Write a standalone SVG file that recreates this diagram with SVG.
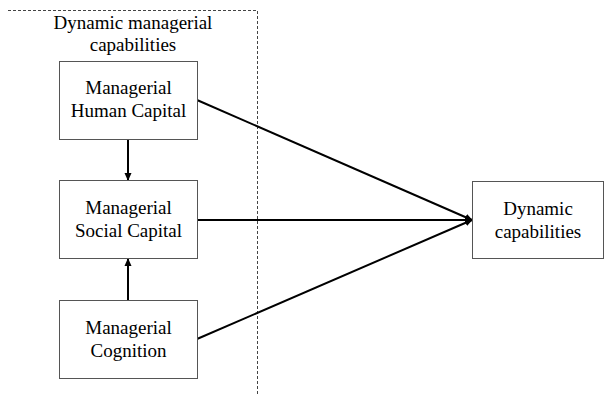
<svg xmlns="http://www.w3.org/2000/svg" width="605" height="396" viewBox="0 0 605 396">
<defs>
<style>
.box{fill:#fff;stroke:#555;stroke-width:1}
.t{font-family:"Liberation Serif","Times New Roman",serif;font-size:19px;fill:#000;text-anchor:middle}
.c{stroke:#000;stroke-width:2;fill:none}
.d{stroke:#444;stroke-width:1;stroke-dasharray:3,2;fill:none}
</style>
<marker id="ah" markerWidth="8" markerHeight="8" refX="7" refY="4" orient="auto" markerUnits="userSpaceOnUse">
<path d="M0,0.5 L8,4 L0,7.5 Z" fill="#000"/>
</marker>
</defs>
<rect width="605" height="396" fill="#fff"/>
<g id="group-dmc">
<path class="d" d="M8,10.5 H257.5 V394"/>
<text class="t" x="133" y="29">Dynamic managerial</text>
<text class="t" x="133" y="51">capabilities</text>
</g>
<g id="connectors">
<line class="c" x1="128" y1="139" x2="128" y2="180" marker-end="url(#ah)"/>
<line class="c" x1="128" y1="300" x2="128" y2="259" marker-end="url(#ah)"/>
<line class="c" x1="197" y1="100" x2="472" y2="220" marker-end="url(#ah)"/>
<line class="c" x1="197" y1="220" x2="472" y2="220" marker-end="url(#ah)"/>
<line class="c" x1="197" y1="339" x2="472" y2="220" marker-end="url(#ah)"/>
</g>
<g id="node-human">
<rect class="box" x="59.5" y="61.5" width="138" height="78"/>
<text class="t" x="128.5" y="94">Managerial</text>
<text class="t" x="128.5" y="117">Human Capital</text>
</g>
<g id="node-social">
<rect class="box" x="59.5" y="180.5" width="138" height="78"/>
<text class="t" x="128.5" y="214">Managerial</text>
<text class="t" x="128.5" y="237">Social Capital</text>
</g>
<g id="node-cognition">
<rect class="box" x="59.5" y="300.5" width="138" height="78"/>
<text class="t" x="128.5" y="334">Managerial</text>
<text class="t" x="128.5" y="357">Cognition</text>
</g>
<g id="node-dynamic">
<rect class="box" x="472.5" y="181.5" width="131" height="77"/>
<text class="t" x="538" y="215">Dynamic</text>
<text class="t" x="538" y="238">capabilities</text>
</g>
</svg>
